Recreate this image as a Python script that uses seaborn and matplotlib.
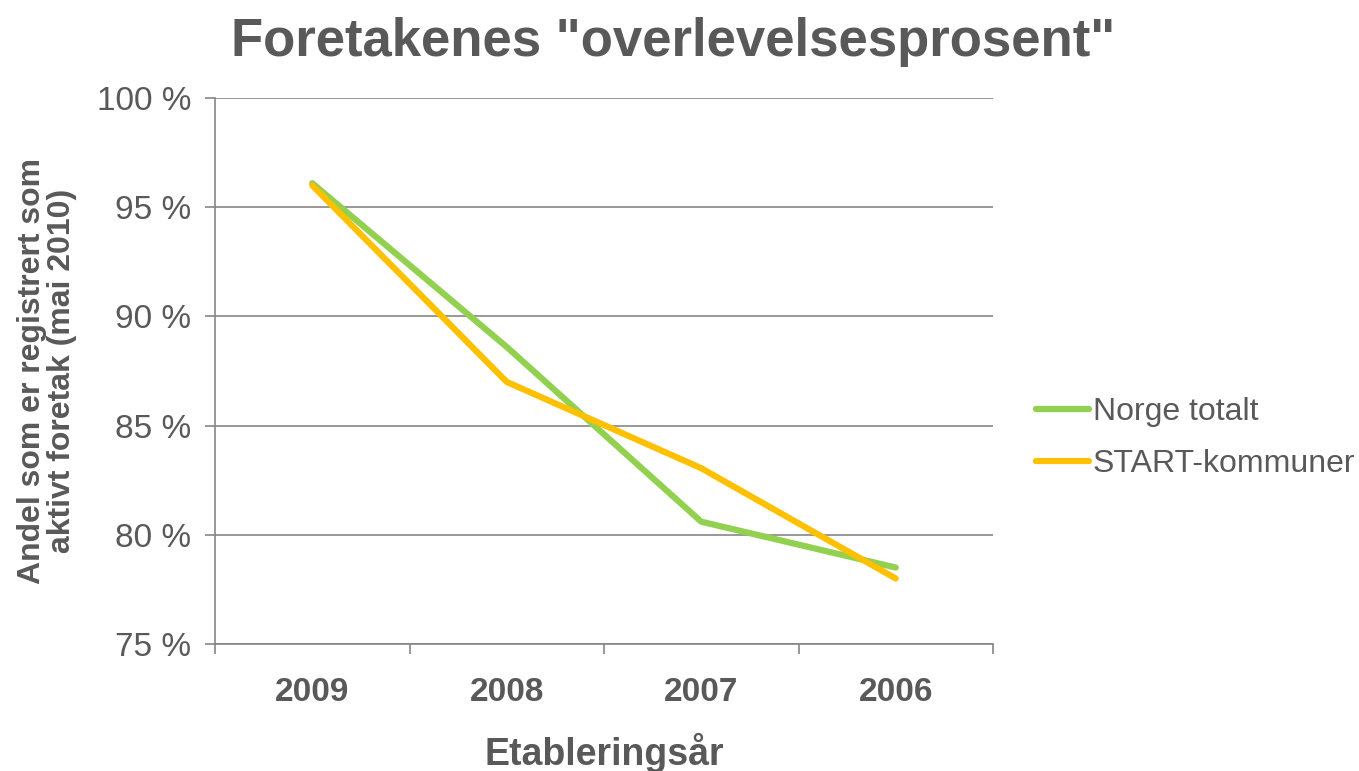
import pandas as pd
import matplotlib.pyplot as plt
import seaborn as sns
from matplotlib.ticker import FixedLocator

# Data
years = ['2009', '2008', '2007', '2006']
norge = [96.1, 88.6, 80.6, 78.5]
start = [96.0, 87.0, 83.05, 78.0]
series = ['Norge totalt', 'START-kommuner']

df = pd.DataFrame({
    'year': years * 2,
    'value': norge + start,
    'series': [series[0]] * 4 + [series[1]] * 4,
})

sns.set_style('white')
plt.rcParams['font.family'] = ['Liberation Sans', 'DejaVu Sans']
grey = '#595959'

fig = plt.figure(figsize=(13.59, 7.71), dpi=100)
ax = fig.add_axes([215 / 1359, 1 - 644 / 771, (993 - 215) / 1359, (644 - 98) / 771])

sns.lineplot(data=df, x='year', y='value', hue='series',
             palette=['#92D050', '#FFC000'], linewidth=4.5, ax=ax,
             solid_capstyle='round', sort=False)

ax.set_xlim(-0.5, 3.5)
ax.set_ylim(75, 100)
ax.set_yticks(range(75, 101, 5))
ax.set_yticklabels([f'{v} %' for v in range(75, 101, 5)], fontsize=24, color=grey)
ax.set_xticks(range(4))
ax.set_xticklabels(years, fontsize=24, fontweight='bold', color=grey)
ax.xaxis.set_minor_locator(FixedLocator([-0.5, 0.5, 1.5, 2.5, 3.5]))
ax.tick_params(axis='x', which='major', length=0, pad=24)
ax.tick_params(axis='x', which='minor', length=7, color='#868686', width=1.2)
ax.tick_params(axis='y', length=7, color='#868686', width=1.2, pad=10, direction='out')
ax.yaxis.set_ticks_position('left')
ax.xaxis.set_ticks_position('bottom')

ax.grid(axis='y', color='#868686', linewidth=1.2)
for s in ['top', 'right']:
    ax.spines[s].set_visible(False)
for s in ['left', 'bottom']:
    ax.spines[s].set_color('#868686')
    ax.spines[s].set_linewidth(1.2)

ax.set_xlabel('Etableringsår', fontsize=27, fontweight='bold', color=grey, labelpad=18)
ax.set_ylabel('Andel som er registrert som\naktivt foretak (mai 2010)', fontsize=23,
              fontweight='bold', color=grey, labelpad=14, linespacing=1.0)

fig.suptitle('Foretakenes "overlevelsesprosent"', fontsize=38, fontweight='bold',
             color=grey, x=673 / 1359, y=0.978)

ax.legend(title=None, frameon=False, fontsize=23, loc='center left',
          bbox_to_anchor=(1.039, 0.3775), handlelength=1.65, handletextpad=0.12,
          labelcolor=grey, borderaxespad=0, labelspacing=0.7)

fig.savefig('out.png', dpi=100)
